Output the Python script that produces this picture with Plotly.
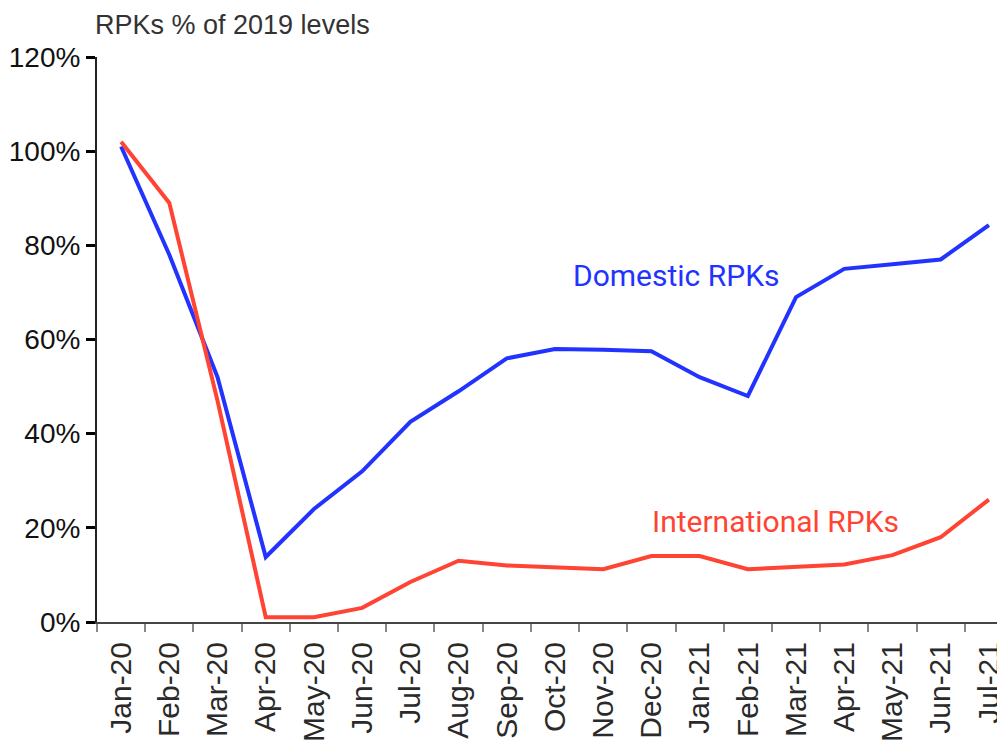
import plotly.graph_objects as go

months = ["Jan-20", "Feb-20", "Mar-20", "Apr-20", "May-20", "Jun-20", "Jul-20", "Aug-20",
          "Sep-20", "Oct-20", "Nov-20", "Dec-20", "Jan-21", "Feb-21", "Mar-21", "Apr-21",
          "May-21", "Jun-21", "Jul-21"]
domestic = [101, 78, 52, 13.8, 24, 32, 42.5, 49, 56, 58, 57.8, 57.5, 52, 48, 69, 75, 76, 77, 84.3]
international = [102, 89, 47, 1, 1, 3, 8.5, 13, 12, 11.7, 11.2, 14, 14, 11.2, 11.7, 12.2, 14.2, 18, 26]
y_ticks = [0, 20, 40, 60, 80, 100, 120]
y_labels = ["0%", "20%", "40%", "60%", "80%", "100%", "120%"]

BLUE = "#2233ff"
RED = "#ff4433"
TICKFONT = "Liberation Sans"

fig = go.Figure()
fig.add_trace(go.Scatter(x=months, y=domestic, mode="lines", name="Domestic RPKs",
                         line=dict(color=BLUE, width=4)))
fig.add_trace(go.Scatter(x=months, y=international, mode="lines", name="International RPKs",
                         line=dict(color=RED, width=4)))

fig.update_layout(
    width=1005, height=745,
    margin=dict(l=89, r=0, t=49, b=131),
    paper_bgcolor="white", plot_bgcolor="white",
    showlegend=False,
    xaxis=dict(type="category", range=[-0.5, 18.5], tickson="boundaries",
               showgrid=False, zeroline=False, showline=True, linecolor="#444", linewidth=2,
               ticks="outside", ticklen=8, tickwidth=2, tickcolor="#888",
               ticklabelstandoff=6,
               tickangle=-90, tickfont=dict(family=TICKFONT, size=30, color="#2a2a2a")),
    yaxis=dict(range=[0, 120], tickvals=y_ticks, ticktext=y_labels,
               showgrid=False, zeroline=False, showline=True, linecolor="#222", linewidth=2,
               ticks="outside", ticklen=9, tickwidth=3, tickcolor="#000",
               tickfont=dict(family=TICKFONT, size=28, color="#111")),
    annotations=[
        dict(text="RPKs % of 2019 levels", xref="paper", yref="paper", x=-0.0044, y=1.056,
             xanchor="left", yanchor="middle", showarrow=False,
             font=dict(family=TICKFONT, size=27, color="#333")),
        dict(text="Domestic RPKs", xref="x", yref="y", x=11.51, y=73.5,
             xanchor="center", yanchor="middle", showarrow=False,
             font=dict(family="Roboto", size=30, color=BLUE)),
        dict(text="International RPKs", xref="x", yref="y", x=13.57, y=21.4,
             xanchor="center", yanchor="middle", showarrow=False,
             font=dict(family="Roboto", size=30, color=RED)),
    ],
)

fig.write_html("out.html")
